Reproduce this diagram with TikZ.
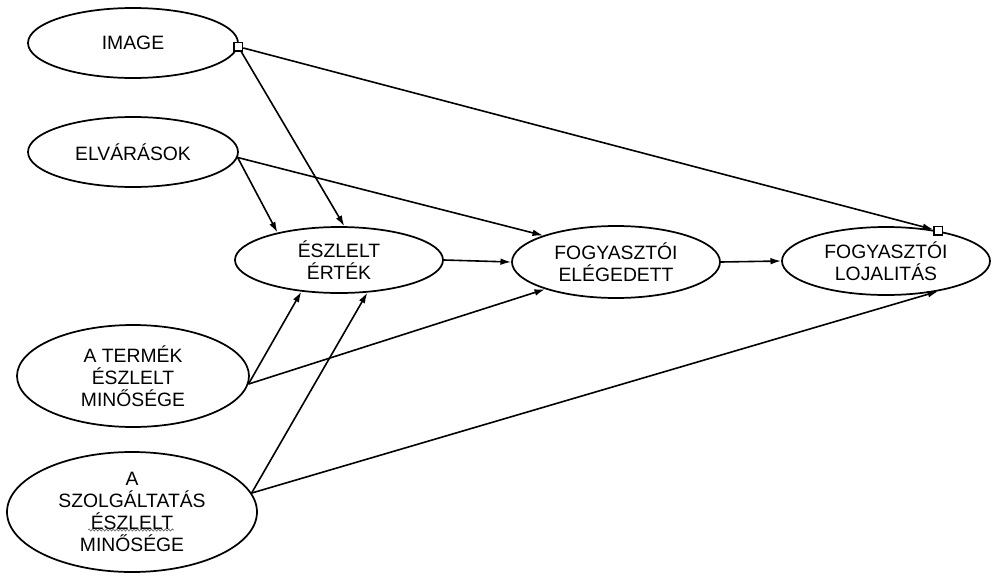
\documentclass[tikz,border=0pt]{standalone}
\usepackage{fontspec}
\setmainfont{Liberation Sans}
\usetikzlibrary{arrows.meta, shapes.geometric, decorations.pathmorphing}

\begin{document}
\begin{tikzpicture}[x=0.75pt, y=-0.75pt,
  font=\fontsize{14.5}{16.5}\selectfont,
  factor/.style={draw, ellipse, line width=1.3pt, align=center, inner sep=0pt},
  port/.style={draw, rectangle, fill=white, line width=1pt, minimum size=6.5pt, inner sep=0pt},
  link/.style={line width=1.2pt, -{Latex[length=8pt,width=5pt]}},
  squiggle/.style={decorate, decoration={snake, amplitude=0.8pt, segment length=2.6pt}, black!60, line width=0.5pt}]
\useasboundingbox (0,0) rectangle (996,575);

% left column
\node[factor, minimum width=157.5pt, minimum height=52.5pt] (image) at (133,43) {IMAGE};
\node[factor, minimum width=157.5pt, minimum height=52.5pt] (elvar) at (133,152) {ELVÁRÁSOK};
\node[factor, minimum width=174pt, minimum height=76.5pt] (termek) at (133,376) {A TERMÉK\\ÉSZLELT\\MINŐSÉGE};
\node[factor, minimum width=187.5pt, minimum height=90pt] (szolg) at (132,512) {A\\SZOLGÁLTATÁS\\ÉSZLELT\\MINŐSÉGE};
\draw[squiggle] ([shift={(-44,18)}]szolg.center) -- ++(86,0);

% middle row
\node[factor, minimum width=156pt, minimum height=49.5pt] (eszlelt) at (339,260) {ÉSZLELT\\ÉRTÉK};
\node[factor, minimum width=156pt, minimum height=54pt] (eleg) at (616,262) {FOGYASZTÓI\\ELÉGEDETT};
\node[factor, minimum width=156pt, minimum height=51pt] (loj) at (886,261) {FOGYASZTÓI\\LOJALITÁS};

% ports
\node[port] (imgport) at (image.-2) {};
\node[port] (lojport) at (loj.30) {};

% paths
\draw[link] (imgport) -- (lojport);
\draw[link] (imgport) -- (eszlelt.81);
\draw[link] (elvar.-3) -- (eszlelt.156);
\draw[link] (elvar.-3) -- (eleg.160);
\draw[link] (eszlelt.east) -- (eleg.west);
\draw[link] (eleg.east) -- (loj.west);
\draw[link] (termek.-4) -- (eszlelt.220);
\draw[link] (termek.-4) -- (eleg.201);
\draw[link] (szolg.9) -- (eszlelt.-49);
\draw[link] (szolg.9) -- (loj.-30);
\end{tikzpicture}
\end{document}
